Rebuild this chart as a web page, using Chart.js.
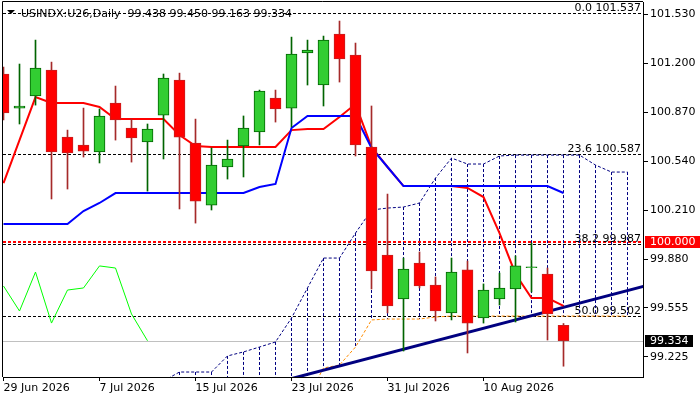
<!DOCTYPE html>
<html><head><meta charset="utf-8">
<script src="https://cdn.jsdelivr.net/npm/chart.js@4.4.1/dist/chart.umd.min.js"></script>
<style>html,body{margin:0;padding:0;background:#fff;overflow:hidden}</style>
</head><body>
<canvas id="c" width="700" height="400"></canvas>
<script>
// ---- data ----
const title = 'USINDX:U26,Daily';
const opens  = [101.127,100.898,100.979,101.154,100.703,100.650,100.603,100.932,100.764,100.670,100.851,101.086,100.663,100.246,100.502,100.643,100.737,100.965,100.898,101.268,101.053,101.396,101.254,100.636,99.910,99.615,99.857,99.709,99.521,99.810,99.487,99.615,99.682,99.825,99.783,99.438];
const highs  = [101.174,101.194,101.355,101.207,100.750,100.898,100.892,101.046,100.824,100.791,101.127,101.133,100.824,100.630,100.683,100.845,101.019,101.019,101.375,101.355,101.382,101.483,101.335,100.912,100.320,99.890,99.931,99.763,99.890,99.870,99.716,99.789,99.904,99.991,99.823,99.450];
const lows   = [100.818,100.791,100.918,100.287,100.354,100.569,100.529,100.683,100.535,100.340,100.556,100.220,100.125,100.213,100.421,100.435,100.650,100.804,100.771,101.053,100.912,101.073,100.576,99.682,99.521,99.265,99.689,99.467,99.474,99.252,99.453,99.574,99.460,99.662,99.339,99.163];
const closes = [100.865,100.912,101.167,100.603,100.596,100.609,100.845,100.818,100.697,100.757,101.100,100.703,100.273,100.515,100.556,100.764,101.013,100.892,101.261,101.288,101.355,101.228,100.650,99.803,99.568,99.816,99.702,99.534,99.796,99.453,99.675,99.689,99.837,99.829,99.514,99.334];
const tenkan = [100.394,100.683,100.972,100.932,100.932,100.932,100.905,100.824,100.824,100.824,100.824,100.717,100.643,100.636,100.636,100.636,100.636,100.636,100.750,100.757,100.757,100.838,100.925,100.636,100.502,100.374,100.374,100.374,100.374,100.361,100.300,100.058,99.783,99.621,99.621,99.568];
const kijun  = [100.119,100.119,100.119,100.119,100.119,100.206,100.260,100.327,100.327,100.327,100.327,100.327,100.327,100.327,100.327,100.327,100.367,100.388,100.764,100.845,100.845,100.845,100.845,100.630,100.502,100.374,100.374,100.374,100.374,100.374,100.374,100.374,100.374,100.374,100.374,100.327];
const chikou = [99.702,99.534,99.796,99.453,99.675,99.689,99.837,99.823,99.514,99.334];
const cloudStart = 10;
const spanUpper = [99.064,99.124,99.124,99.124,99.232,99.259,99.292,99.326,99.487,99.689,99.890,99.890,100.058,100.213,100.226,100.233,100.260,100.428,100.562,100.522,100.522,100.576,100.582,100.582,100.582,100.582,100.582,100.515,100.468,100.468];
const spanLower = [98.950,98.950,98.950,98.950,98.950,98.950,98.950,98.950,98.950,98.950,99.151,99.171,99.292,99.474,99.480,99.480,99.480,99.494,99.500,99.500,99.500,99.500,99.500,99.500,99.500,99.500,99.500,99.500,99.500,99.500];
const trendline = [[18, 99.080], [40, 99.700]];
const fibLevels = [0.0, 23.6, 38.2, 50.0];
const fibPrices = [101.537, 100.587, 99.987, 99.502];
const roundLevel = 100.000;
const yTicks = [101.530, 101.200, 100.870, 100.540, 100.210, 99.880, 99.555, 99.225];
const xTickIdx = [0, 6, 12, 18, 24, 30];
const xTickLabels = ['29 Jun 2026', '7 Jul 2026', '15 Jul 2026', '23 Jul 2026', '31 Jul 2026', '10 Aug 2026'];

// ---- build ----
const FONT = 'DejaVu Sans';
Chart.defaults.font.family = FONT;
Chart.defaults.font.size = 11;
Chart.defaults.color = '#000';

const idx = opens.map((_, i) => i);
const up = closes.map((c, i) => c >= opens[i]);
const last = opens.length - 1;

const hatch = [];
spanUpper.forEach((v, k) => {
  const x = cloudStart + k;
  hatch.push({x, y: v}, {x, y: spanLower[k]}, {x, y: null});
});

const lineDs = (data, color, width, order, dash) => ({
  type: 'line', data, borderColor: color, borderWidth: width, borderDash: dash || [],
  pointRadius: 0, tension: 0, fill: false, order, clip: 0, spanGaps: false
});

const overlay = {
  id: 'overlay',
  beforeDatasetsDraw(chart) {
    const {ctx, chartArea: a, scales: {y}} = chart;
    ctx.save();
    ctx.beginPath(); ctx.rect(a.left, a.top, a.right - a.left, a.bottom - a.top); ctx.clip();
    const hline = (py) => { ctx.beginPath(); ctx.moveTo(a.left, py); ctx.lineTo(a.right, py); ctx.stroke(); };
    // last price
    ctx.strokeStyle = '#c0c0c0'; ctx.lineWidth = 1; ctx.setLineDash([]);
    hline(Math.round(y.getPixelForValue(closes[last])) + 0.5);
    // round level
    ctx.strokeStyle = '#ff0000'; ctx.lineWidth = 2; ctx.setLineDash([3, 2]);
    hline(Math.round(y.getPixelForValue(roundLevel)));
    // fibonacci
    ctx.strokeStyle = '#000'; ctx.lineWidth = 1; ctx.setLineDash([3, 2]);
    ctx.font = '11px "' + FONT + '"'; ctx.fillStyle = '#000';
    ctx.textAlign = 'right'; ctx.textBaseline = 'alphabetic';
    fibPrices.forEach((p, k) => {
      const py = Math.round(y.getPixelForValue(p)) + 0.5;
      hline(py);
      ctx.fillText(fibLevels[k].toFixed(1) + ' ' + p.toFixed(3), a.right - 2, py - 3);
    });
    ctx.restore();
  },
  afterDraw(chart) {
    const {ctx, chartArea: a, scales: {y}} = chart;
    ctx.save();
    ctx.strokeStyle = '#000'; ctx.lineWidth = 1; ctx.setLineDash([]);
    ctx.beginPath();
    ctx.moveTo(a.left - 0.5, a.bottom); ctx.lineTo(a.left - 0.5, a.top - 0.5); ctx.lineTo(a.right, a.top - 0.5);
    ctx.stroke();
    // header
    ctx.fillStyle = '#000';
    ctx.beginPath(); ctx.moveTo(7, 10); ctx.lineTo(15, 10); ctx.lineTo(11, 14); ctx.closePath(); ctx.fill();
    ctx.font = '11px "' + FONT + '"'; ctx.textAlign = 'left'; ctx.textBaseline = 'alphabetic';
    ctx.fillText(title + '  ' + [opens[last], highs[last], lows[last], closes[last]].map(v => v.toFixed(3)).join(' '), 21, 17);
    // price boxes on axis
    const box = (p, bg, w) => {
      const py = Math.round(y.getPixelForValue(p));
      ctx.fillStyle = bg; ctx.fillRect(a.right + 2, py - 6, w, 12);
      ctx.fillStyle = '#fff'; ctx.textBaseline = 'middle';
      ctx.fillText(p.toFixed(3), a.right + 7, py + 0.5);
    };
    box(roundLevel, '#ff0000', 700 - a.right - 2);
    box(closes[last], '#000000', 48);
    ctx.restore();
  }
};

new Chart(document.getElementById('c'), {
  type: 'bar',
  data: {
    datasets: [
      {type: 'bar', data: idx.map(i => ({x: i, y: [opens[i], closes[i]]})),
       backgroundColor: up.map(u => u ? '#32cd32' : '#ff0000'),
       borderColor: up.map(u => u ? '#006400' : '#c81e1e'),
       borderWidth: 1, borderSkipped: false, barThickness: 11, grouped: false, minBarLength: 1, order: 0, clip: 0},
      {type: 'bar', data: idx.map(i => ({x: i, y: [lows[i], highs[i]]})),
       backgroundColor: up.map(u => u ? '#006400' : '#a52a2a'),
       borderWidth: 0, barThickness: 1, grouped: false, order: 1, clip: 0},
      lineDs(idx.map(i => ({x: i, y: kijun[i]})), '#0000ff', 2, 2),
      lineDs(idx.map(i => ({x: i, y: tenkan[i]})), '#ff0000', 2, 3),
      lineDs(chikou.map((v, i) => ({x: i, y: v})), '#00ff00', 1, 4),
      lineDs(trendline.map(p => ({x: p[0], y: p[1]})), '#000080', 3, 5),
      lineDs(spanUpper.map((v, k) => ({x: cloudStart + k, y: v})), '#000080', 1, 6, [3, 2]),
      lineDs(spanLower.map((v, k) => ({x: cloudStart + k, y: v})), '#ff8c00', 1, 7, [3, 2]),
      lineDs(hatch, '#000080', 1, 8, [3, 2])
    ]
  },
  options: {
    responsive: false, animation: false, events: [],
    layout: {padding: {left: 3, top: 2, right: 0, bottom: 0}},
    plugins: {legend: {display: false}, tooltip: {enabled: false}},
    scales: {
      x: {
        type: 'linear', offset: false, min: -0.03125, max: 39.96875, bounds: 'data',
        grid: {drawOnChartArea: false, drawTicks: true, tickLength: 4, color: '#000', offset: false},
        border: {display: true, color: '#000', width: 1},
        ticks: {autoSkip: false, maxRotation: 0, align: 'start', padding: 1, color: '#000',
                callback: v => { const k = xTickIdx.indexOf(v); return k >= 0 ? xTickLabels[k] : ''; }},
        afterBuildTicks: s => { s.ticks = xTickIdx.map(v => ({value: v})); },
        afterFit: s => { s.height = 23; s.paddingLeft = 0; s.paddingRight = 0; }
      },
      y: {
        type: 'linear', position: 'right', min: 99.0905, max: 101.611, beginAtZero: false, bounds: 'data',
        grid: {drawOnChartArea: false, drawTicks: true, tickLength: 5, color: '#000'},
        border: {display: true, color: '#000', width: 1},
        ticks: {autoSkip: false, padding: 2, color: '#000', callback: v => Number(v).toFixed(3)},
        afterBuildTicks: s => { s.ticks = yTicks.map(v => ({value: v})); },
        afterFit: s => { s.width = 57; s.paddingTop = 0; s.paddingBottom = 0; }
      }
    }
  },
  plugins: [overlay]
});
</script>
</body></html>
